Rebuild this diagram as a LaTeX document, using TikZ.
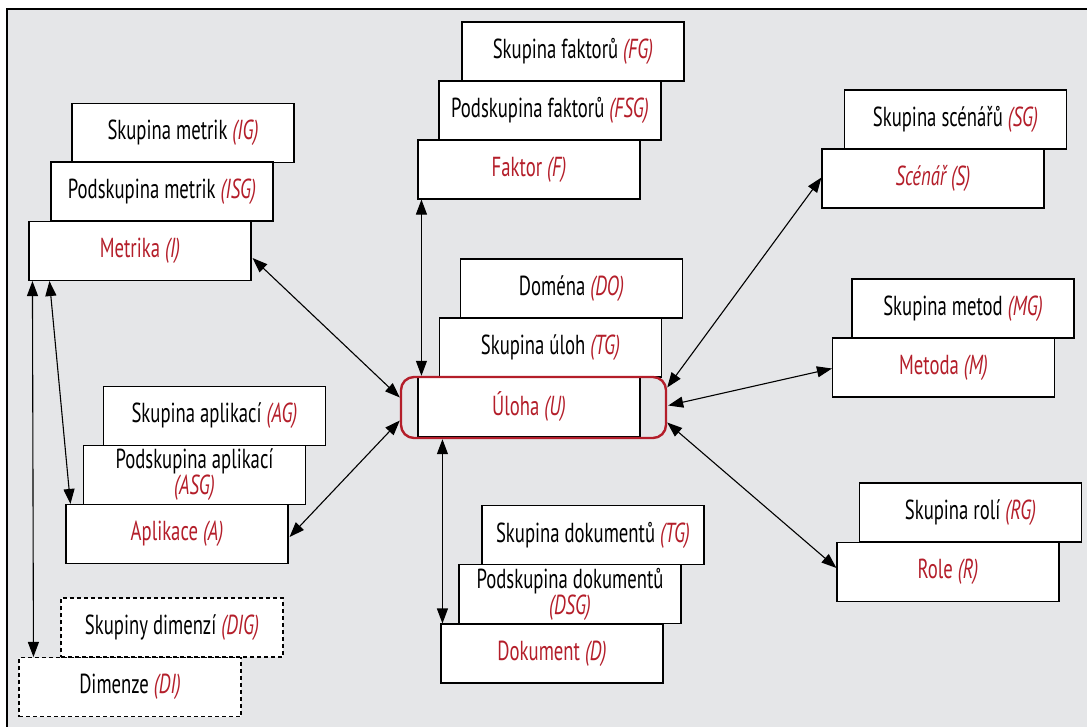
\documentclass[tikz,border=0pt]{standalone}
\usepackage{fontspec}
\setmainfont{PT Sans}[FakeStretch=0.68]
\usetikzlibrary{arrows.meta,calc}
\definecolor{bg}{HTML}{E5E6E8}
\definecolor{myred}{HTML}{B41E2A}
\newcommand{\rd}[1]{\textcolor{myred}{\itshape #1}}
\newcommand{\rn}[1]{\textcolor{myred}{#1}}
\tikzset{
 box/.style={draw=black, line width=1.1pt, fill=white, minimum width=222pt, minimum height=59pt,
   inner sep=0pt, font=\fontsize{27.5}{26}\selectfont, align=center},
 dbox/.style={box, dash pattern=on 4pt off 3pt},
 link/.style={line width=1.1pt, {Triangle[length=15pt,width=11pt]}-{Triangle[length=15pt,width=11pt]}},
 uframe/.style={draw=myred, line width=2.4pt, rounded corners=13pt, minimum width=265pt, minimum height=61pt, inner sep=0pt}
}
\begin{document}
\begin{tikzpicture}[x=1pt,y=-1pt]
\useasboundingbox (0,0) rectangle (1087,726);
\clip (0,0) rectangle (1087,726);
\filldraw[fill=bg, draw=black, line width=1.4pt] (7,9) rectangle (1100,740);
% Metrika group
\node[box] (IG) at (183,133) {Skupina metrik \rd{(IG)}};
\node[box] (ISG) at (162,191.5) {Podskupina metrik \rd{(ISG)}};
\node[box] (I) at (140,251) {\rn{Metrika} \rd{(I)}};
% Faktor group
\node[box] (FG) at (573,51.5) {Skupina faktorů \rd{(FG)}};
\node[box] (FSG) at (550,110.5) {Podskupina faktorů \rd{(FSG)}};
\node[box] (F) at (529,169.5) {\rn{Faktor} \rd{(F)}};
% Scenar group
\node[box] (SG) at (955.5,119.5) {Skupina scénářů \rd{(SG)}};
\node[box] (S) at (933,178.5) {\rd{Scénář (S)}};
% Uloha group
\node[box] (DO) at (571.5,288.5) {Doména \rd{(DO)}};
\node[box] (TG) at (550.5,347.5) {Skupina úloh \rd{(TG)}};
\node[box] (U) at (529,407) {\rn{Úloha} \rd{(U)}};
\node[uframe] (Uf) at (533.5,407.5) {};
% Metoda group
\node[box] (MG) at (963,308.5) {Skupina metod \rd{(MG)}};
\node[box] (M) at (943.5,367.5) {\rn{Metoda} \rd{(M)}};
% Aplikace group
\node[box] (AG) at (214.5,416) {Skupina aplikací \rd{(AG)}};
\node[box] (ASG) at (194.5,475) {Podskupina aplikací\\\rd{(ASG)}};
\node[box] (A) at (177,534) {\rn{Aplikace} \rd{(A)}};
% Role group
\node[box] (RG) at (970.5,512.5) {Skupina rolí \rd{(RG)}};
\node[box] (R) at (948,572) {\rn{Role} \rd{(R)}};
% Dokument group
\node[box] (DTG) at (593,535) {Skupina dokumentů \rd{(TG)}};
\node[box] (DSG) at (570,594) {Podskupina dokumentů\\\rd{(DSG)}};
\node[box] (D) at (552,653.5) {\rn{Dokument} \rd{(D)}};
% Dimenze group
\node[dbox] (DIG) at (172,627.5) {Skupiny dimenzí \rd{(DIG)}};
\node[dbox] (DI) at (130,687) {Dimenze \rd{(DI)}};
% connector end points
\coordinate (fa) at ($(F.south west)+(4,0)$);
\coordinate (da) at ($(D.north west)+(2,0)$);
% connectors
\draw[link] ($(I.east)+(1,7)$) -- ($(Uf.west)+(0,-10)$);
\draw[link] ($(A.east)+(1,3)$) -- ($(Uf.west)+(0,13)$);
\draw[link] ($(I.south west)+(4,0)$) -- ($(DI.north west)+(15,0)$);
\draw[link] ($(I.south west)+(21,0)$) -- ($(A.north west)+(5,0)$);
\draw[link] (fa) -- (fa |- Uf.north);
\draw[link] (da |- Uf.south) -- (da);
\draw[link] ($(S.west)+(0,-1)$) -- ($(Uf.east)+(0,-20)$);
\draw[link] ($(M.west)+(0,1)$) -- ($(Uf.east)+(1,-2)$);
\draw[link] ($(R.west)+(0,-4)$) -- ($(Uf.east)+(0,15)$);
\end{tikzpicture}
\end{document}
